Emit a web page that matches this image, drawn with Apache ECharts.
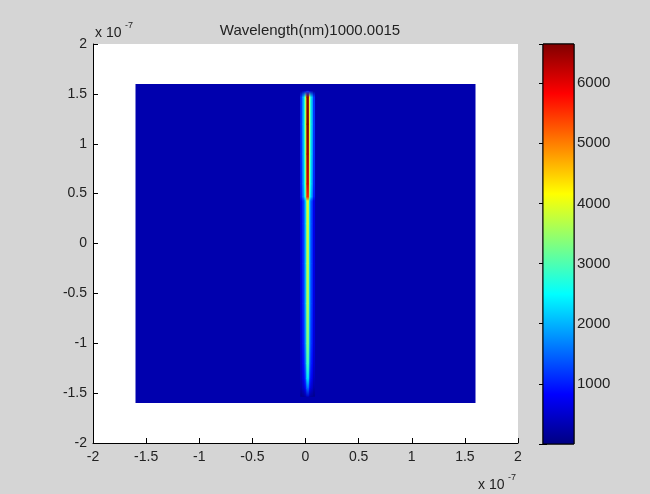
<!DOCTYPE html>
<html>
<head>
<meta charset="utf-8">
<script src="https://cdn.jsdelivr.net/npm/echarts@6/dist/echarts.min.js"></script>
<style>
  html, body { margin: 0; padding: 0; background: #d5d5d5; }
  #main { width: 650px; height: 494px; }
</style>
</head>
<body>
<div id="main"></div>
<script>
// axis ranges (units of 1e-7)
const axisMin = -2
const axisMax = 2
const tickStep = 0.5

// field values
const bgRect = [-1.6, 1.6, -1.6, 1.6] // x0, x1, y0, y1
const bgValue = 300
const lineCenterX = 0.02
const lineY = [1.53, 1.47, 1.2, 0.9, 0.6, 0.47, 0.43, 0.2, -0.2, -0.6, -1.0, -1.2, -1.35, -1.45, -1.53]
const linePeak = [1200, 6500, 6600, 6400, 6100, 5600, 3900, 3800, 3700, 3600, 3300, 2900, 2300, 1500, 500]
// cross-section of the line: half widths and share of the peak
const stripHalfWidth = [0.07, 0.05, 0.035, 0.022, 0.012]
const stripFraction = [0.18, 0.3, 0.42, 0.6, 1.0]

// colour bar
const colorMin = 0
const colorMax = 6650
const colorStep = 1000

const FONT = 'Liberation Sans, Arial, sans-serif'
const TEXT = '#222'

const jet = (t) => {
	const c = (v) => Math.round(Math.max(0, Math.min(1, v)) * 255)
	const r = c(Math.min(4 * t - 1.5, -4 * t + 4.5))
	const g = c(Math.min(4 * t - 0.5, -4 * t + 3.5))
	const b = c(Math.min(4 * t + 0.5, -4 * t + 2.5))
	return 'rgb(' + r + ',' + g + ',' + b + ')'
}
const colorOf = (v) => jet((v - colorMin) / (colorMax - colorMin))

const chart = echarts.init(document.getElementById('main'), null, { renderer: 'canvas' })

const mainAxis = {
	type: 'value',
	min: axisMin,
	max: axisMax,
	interval: tickStep,
	axisLine: { show: true, onZero: false, lineStyle: { color: '#000', width: 1 } },
	axisTick: { show: true, inside: true, length: 5, lineStyle: { color: '#000' } },
	splitLine: { show: false },
	axisLabel: { color: TEXT, fontSize: 14, fontFamily: FONT }
}

const option = {
	backgroundColor: '#d5d5d5',
	animation: false,
	grid: [
		{ left: 93, top: 44, width: 425, height: 399, show: true, backgroundColor: '#fff', borderWidth: 0 },
		{ left: 543, top: 44, width: 31, height: 400, show: true, borderColor: '#000', borderWidth: 1 }
	],
	xAxis: [
		Object.assign({}, mainAxis, { gridIndex: 0, position: 'bottom', axisLabel: Object.assign({}, mainAxis.axisLabel, { margin: 7 }) }),
		{ gridIndex: 1, type: 'value', min: 0, max: 1, show: false }
	],
	yAxis: [
		Object.assign({}, mainAxis, { gridIndex: 0, position: 'left', axisLabel: Object.assign({}, mainAxis.axisLabel, { margin: 6 }) }),
		{
			gridIndex: 1,
			type: 'value',
			position: 'right',
			min: colorMin,
			max: colorMax,
			interval: colorStep,
			axisLine: { show: false },
			axisTick: { show: true, inside: true, length: 4, lineStyle: { color: '#000' } },
			splitLine: { show: false },
			axisLabel: {
				color: TEXT,
				fontSize: 15,
				fontFamily: FONT,
				margin: 3,
				formatter: (v) => (v > colorMin && v % colorStep === 0 ? String(v) : '')
			}
		},
		{
			gridIndex: 1,
			type: 'value',
			position: 'left',
			min: colorMin,
			max: colorMax,
			interval: colorStep,
			axisLine: { show: false },
			axisTick: { show: true, inside: true, length: 4, lineStyle: { color: '#000' } },
			splitLine: { show: false },
			axisLabel: { show: false }
		}
	],
	title: {
		text: 'Wavelength(nm)1000.0015',
		left: 305,
		top: 18,
		textAlign: 'center',
		textStyle: { color: TEXT, fontSize: 15, fontWeight: 'normal', fontFamily: FONT }
	},
	graphic: [
		{ type: 'text', left: 95, top: 26, style: { text: 'x 10', fill: TEXT, font: '14px ' + FONT } },
		{ type: 'text', left: 125, top: 21, style: { text: '-7', fill: TEXT, font: '9px ' + FONT } },
		{ type: 'text', left: 478, top: 478, style: { text: 'x 10', fill: TEXT, font: '14px ' + FONT } },
		{ type: 'text', left: 508, top: 473, style: { text: '-7', fill: TEXT, font: '9px ' + FONT } }
	],
	series: [
		{
			// background of the field
			type: 'custom',
			xAxisIndex: 0,
			yAxisIndex: 0,
			data: [[0, 0]],
			renderItem: (params, api) => {
				const p0 = api.coord([bgRect[0], bgRect[3]])
				const p1 = api.coord([bgRect[1], bgRect[2]])
				return {
					type: 'rect',
					shape: { x: p0[0], y: p0[1], width: p1[0] - p0[0], height: p1[1] - p0[1] },
					style: { fill: colorOf(bgValue) }
				}
			}
		},
		{
			// the bright line, drawn as nested strips
			type: 'custom',
			xAxisIndex: 0,
			yAxisIndex: 0,
			data: stripHalfWidth.map((w, i) => [i, 0]),
			renderItem: (params, api) => {
				const i = params.dataIndex
				const hw = stripHalfWidth[i]
				const f = stripFraction[i]
				const children = []
				for (let k = 0; k < lineY.length - 1; k++) {
					const p0 = api.coord([lineCenterX - hw, lineY[k]])
					const p1 = api.coord([lineCenterX + hw, lineY[k + 1]])
					children.push({
						type: 'rect',
						shape: { x: p0[0], y: p0[1], width: p1[0] - p0[0], height: p1[1] - p0[1] + 0.6 },
						style: {
							fill: new echarts.graphic.LinearGradient(0, 0, 0, 1, [
								{ offset: 0, color: colorOf(linePeak[k] * f) },
								{ offset: 1, color: colorOf(linePeak[k + 1] * f) }
							])
						}
					})
				}
				return { type: 'group', children: children }
			}
		},
		{
			// colour bar
			type: 'custom',
			xAxisIndex: 1,
			yAxisIndex: 1,
			z: 1,
			data: [[0, 0]],
			renderItem: (params, api) => {
				const p0 = api.coord([0, colorMax])
				const p1 = api.coord([1, colorMin])
				const stops = [0, 1 / 8, 3 / 8, 5 / 8, 7 / 8, 1].map((t) => ({ offset: 1 - t, color: jet(t) }))
				stops.reverse()
				return {
					type: 'rect',
					shape: { x: p0[0], y: p0[1], width: p1[0] - p0[0], height: p1[1] - p0[1] },
					style: { fill: new echarts.graphic.LinearGradient(0, 0, 0, 1, stops), stroke: '#000', lineWidth: 1 }
				}
			}
		}
	]
}

chart.setOption(option)
</script>
</body>
</html>
